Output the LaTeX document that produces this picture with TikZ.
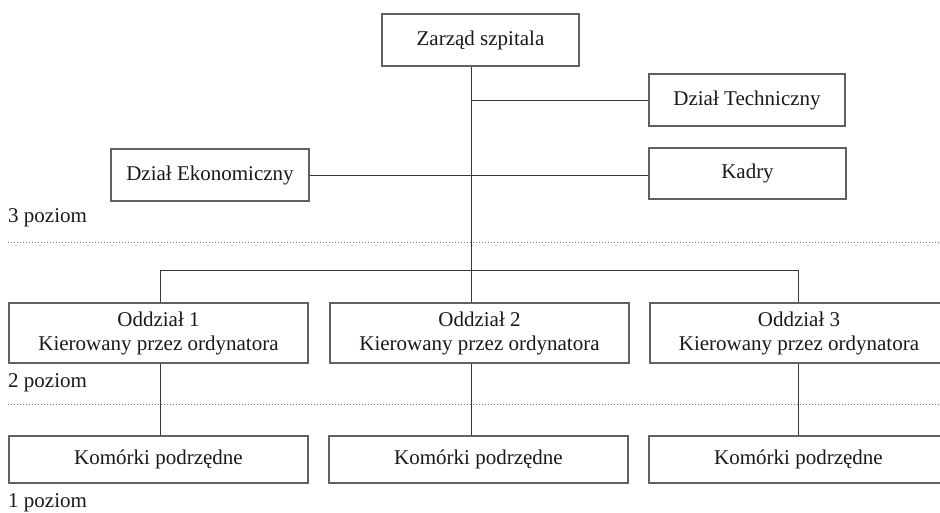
\documentclass[tikz,border=0pt]{standalone}
\usepackage{fontspec}
\setmainfont{Liberation Serif}
\begin{document}
\begin{tikzpicture}[x=1pt,y=-1pt,
  unitbox/.style={draw=black!62, line width=1.1pt, fill=white, inner sep=0pt,
    align=center, font=\fontsize{21}{24}\selectfont, text=black!90},
  link/.style={draw=black!78, line width=1pt},
  levelsep/.style={draw=black!55, line width=0.9pt, dash pattern=on 1pt off 2pt},
  levellabel/.style={anchor=base west, inner sep=0pt,
    font=\fontsize{21}{24}\selectfont, text=black!90}]
\useasboundingbox (0,0) rectangle (940,512);
\clip (0,0) rectangle (940,512);

% trunk and branch columns
\coordinate (trunk) at (471,0);
\coordinate (c1) at (160,0);
\coordinate (c3) at (798,0);
\coordinate (bus) at (0,270);

% level separators
\coordinate (sepA) at (8,242);
\coordinate (sepAend) at (940,242);
\coordinate (sepB) at (8,404);
\coordinate (sepBend) at (940,404);
\draw[levelsep] (sepA) -- (sepAend);
\draw[levelsep] (sepB) -- (sepBend);

% management and support units
\node[unitbox, minimum width=197pt, minimum height=52pt] (zarzad) at (480.5,40) {Zarząd szpitala};
\node[unitbox, minimum width=196pt, minimum height=52pt] (tech) at (747,100) {Dział Techniczny};
\node[unitbox, minimum width=197pt, minimum height=51pt] (kadry) at (747.5,173.5) {Kadry};
\node[unitbox, minimum width=198pt, minimum height=52pt] (ekon) at (210,175) {Dział Ekonomiczny};

% wards
\node[unitbox, minimum width=299pt, minimum height=60pt] (odd1) at (158.5,333) {Oddział 1\\Kierowany przez ordynatora};
\node[unitbox, minimum width=299pt, minimum height=60pt] (odd2) at (479.5,333) {Oddział 2\\Kierowany przez ordynatora};
\node[unitbox, minimum width=298pt, minimum height=60pt] (odd3) at (799,333) {Oddział 3\\Kierowany przez ordynatora};

% subordinate cells
\node[unitbox, minimum width=299pt, minimum height=47pt] (kom1) at (158.5,459.5) {Komórki podrzędne};
\node[unitbox, minimum width=299pt, minimum height=47pt] (kom2) at (478.5,459.5) {Komórki podrzędne};
\node[unitbox, minimum width=299pt, minimum height=47pt] (kom3) at (798.5,459.5) {Komórki podrzędne};

% connectors
\draw[link] (zarzad.south -| trunk) -- (odd2.north -| trunk);
\draw[link] (tech.west) -- (tech.west -| trunk);
\draw[link] (ekon.east) -- (ekon.east -| kadry.west);
\draw[link] (odd1.north -| c1) -- (c1 |- bus) -- (c3 |- bus) -- (odd3.north -| c3);
\draw[link] (odd1.south -| c1) -- (kom1.north -| c1);
\draw[link] (odd2.south -| trunk) -- (kom2.north -| trunk);
\draw[link] (odd3.south -| c3) -- (kom3.north -| c3);

% level labels
\node[levellabel] (lvl3) at (8,222) {3 poziom};
\node[levellabel] (lvl2) at (8,387) {2 poziom};
\node[levellabel] (lvl1) at (8,507) {1 poziom};
\end{tikzpicture}
\end{document}
